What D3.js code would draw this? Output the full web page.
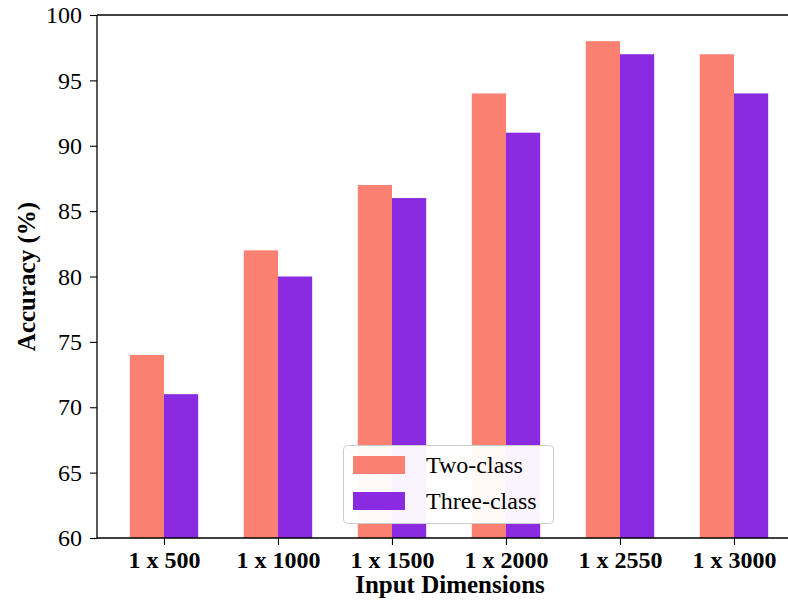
<!DOCTYPE html>
<html><head><meta charset="utf-8">
<script src="https://cdn.jsdelivr.net/npm/d3@7"></script>
<style>body{margin:0;background:#fff}svg{display:block}</style>
</head><body>
<script>
const categories = ["1 x 500","1 x 1000","1 x 1500","1 x 2000","1 x 2550","1 x 3000"];
const twoClass = [74, 82, 87, 94, 98, 97];
const threeClass = [71, 80, 86, 91, 97, 94];
const seriesNames = ["Two-class","Three-class"];
const colors = ["#FA8072","#8A2BE2"];
const yTicks = [60,65,70,75,80,85,90,95,100];

const W=788,H=606;
const mLeft=97, mTop=15, mBottom=538;
const svg=d3.select("body").append("svg").attr("width",W).attr("height",H);
const font="'Liberation Serif','Times New Roman',serif";

// matplotlib-like x limits
const x=d3.scaleLinear().domain([-0.5875,5.7375]).range([mLeft, mLeft+(5.7375+0.5875)*114]);
const y=d3.scaleLinear().domain([60,100]).range([mBottom,mTop]);
const bw=0.3;

const g=svg.append("g");
[twoClass,threeClass].forEach((vals,si)=>{
  g.selectAll(null).data(vals).enter().append("rect")
   .attr("x",(d,i)=>x(i+(si===0?-bw:0)))
   .attr("width",(d,i)=>x(i+bw)-x(i))
   .attr("y",d=>y(d))
   .attr("height",d=>y(60)-y(d))
   .attr("fill",colors[si]);
});

// axes
const yAxis=d3.axisLeft(y).tickValues(yTicks).tickSize(7).tickPadding(8).tickFormat(d3.format("d"));
const ya=svg.append("g").attr("transform",`translate(${mLeft},0)`).call(yAxis);
ya.selectAll("text").attr("font-family",font).attr("font-size",24).attr("fill","#000");
const xAxis=d3.axisBottom(x).tickValues(d3.range(categories.length)).tickFormat(i=>categories[i]).tickSize(7).tickPadding(6);
const xa=svg.append("g").attr("transform",`translate(0,${mBottom})`).call(xAxis);
xa.selectAll("text").attr("font-family",font).attr("font-size",24).attr("font-weight","bold").attr("fill","#000");
[ya,xa].forEach(a=>{a.select(".domain").attr("stroke","#000").attr("stroke-width",1.3);a.selectAll(".tick line").attr("stroke","#000").attr("stroke-width",1.1);});
// top spine
svg.append("line").attr("x1",mLeft).attr("x2",W+10).attr("y1",mTop).attr("y2",mTop).attr("stroke","#000").attr("stroke-width",1.3);
ya.select(".domain").attr("d",`M0,${mBottom}V${mTop}`);
xa.select(".domain").attr("d",`M${mLeft},0H${W+10}`);

// titles
svg.append("text").attr("x",450).attr("y",593).attr("text-anchor","middle")
  .attr("font-family",font).attr("font-size",25).attr("font-weight","bold").text("Input Dimensions");
svg.append("text").attr("transform",`translate(35,${(mTop+mBottom)/2}) rotate(-90)`).attr("text-anchor","middle")
  .attr("font-family",font).attr("font-size",25).attr("font-weight","bold").text("Accuracy (%)");

// legend
const lg=svg.append("g");
lg.append("rect").attr("x",343.5).attr("y",445.5).attr("width",210).attr("height",78).attr("rx",4)
  .attr("fill","#fff").attr("fill-opacity",0.95).attr("stroke","#ccc").attr("stroke-width",1);
seriesNames.forEach((n,i)=>{
  const yy=456+i*36;
  lg.append("rect").attr("x",353).attr("y",yy).attr("width",52).attr("height",18).attr("fill",colors[i]);
  lg.append("text").attr("x",426).attr("y",yy+17).attr("font-family",font).attr("font-size",24).text(n);
});
</script>
</body></html>
